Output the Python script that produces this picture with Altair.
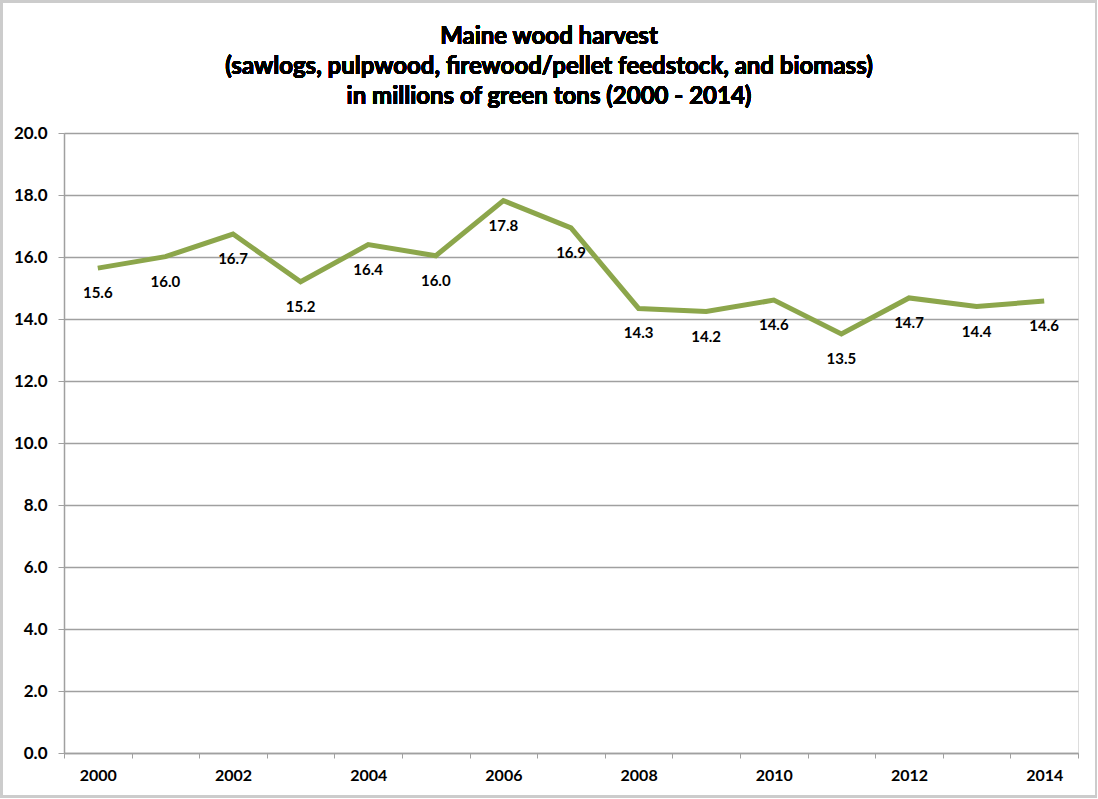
import altair as alt
import pandas as pd

years = list(range(2000, 2015))
harvest = [15.64, 16.01, 16.74, 15.2, 16.4, 16.04, 17.82, 16.94, 14.34, 14.24, 14.61, 13.52, 14.68, 14.4, 14.58]
labels = ["15.6", "16.0", "16.7", "15.2", "16.4", "16.0", "17.8", "16.9", "14.3", "14.2", "14.6", "13.5", "14.7", "14.4", "14.6"]
title_lines = [
    "Maine wood harvest",
    "(sawlogs, pulpwood, firewood/pellet feedstock, and biomass)",
    "in millions of green tons (2000 - 2014)",
]
y_ticks = [0, 2, 4, 6, 8, 10, 12, 14, 16, 18, 20]
x_tick_values = [1999.5 + 0.5 * i for i in range(31)]

df = pd.DataFrame({"year": years, "value": harvest, "label": labels})

FONT = "Lato"
W, H = 1014, 620
LEFT, TOP = 64, 133

x_enc = alt.X(
    "year:Q",
    scale=alt.Scale(domain=[1999.5, 2014.5], nice=False, zero=False),
    axis=alt.Axis(
        title=None,
        values=x_tick_values,
        labelExpr="(datum.value % 2 == 0) ? format(datum.value, 'd') : ''",
        tickOpacity={"condition": {"test": "datum.value % 1 == 0", "value": 0}, "value": 1},
        tickSize=5,
        tickColor="#a0a0a0",
        domainColor="#a0a0a0",
        domainWidth=1.5,
        grid=False,
        labelFont=FONT,
        labelFontWeight="bold",
        labelFontSize=16,
        labelColor="#000000",
        labelPadding=9,
        labelOverlap=False,
        labelFlush=False,
    ),
)
y_enc = alt.Y(
    "value:Q",
    scale=alt.Scale(domain=[0, 20], nice=False),
    axis=alt.Axis(
        title=None,
        values=y_ticks,
        format=".1f",
        tickSize=6,
        tickColor="#a0a0a0",
        domainColor="#a0a0a0",
        domainWidth=1.5,
        grid=True,
        gridColor="#a0a0a0",
        gridWidth=1.5,
        labelFont=FONT,
        labelFontWeight="bold",
        labelFontSize=17,
        labelColor="#000000",
        labelPadding=11,
    ),
)

line = alt.Chart(df).mark_line(color="#8CA64B", strokeWidth=5, strokeJoin="miter").encode(x=x_enc, y=y_enc)

text = alt.Chart(df).mark_text(
    dy=25, font=FONT, fontWeight="bold", fontSize=15, color="#000000", align="center", baseline="middle"
).encode(x=x_enc, y=y_enc, text="label:N")

title = alt.Chart(df).mark_text(
    font=FONT, fontWeight="bold", fontSize=24, lineHeight=30, color="#000000",
    align="center", baseline="middle",
).encode(
    x=alt.value(549 - LEFT), y=alt.value(37 - TOP), text=alt.value(title_lines)
)

border = alt.Chart(df).mark_rect(
    fill=None, stroke="#cccccc", strokeWidth=2
).encode(
    x=alt.value(-LEFT + 1.5), x2=alt.value(1097 - LEFT - 1), y=alt.value(-TOP + 1.5), y2=alt.value(799 - TOP - 2.5)
)

chart = alt.layer(border, line, text, title).properties(
    width=W,
    height=H,
    padding={"left": LEFT, "top": TOP, "right": 1098 - LEFT - W, "bottom": 799 - TOP - H},
    autosize=alt.AutoSizeParams(type="none"),
).configure_view(stroke=None).configure(background="white")

chart.save("out.html", embed_options={"renderer": "svg", "actions": False})
